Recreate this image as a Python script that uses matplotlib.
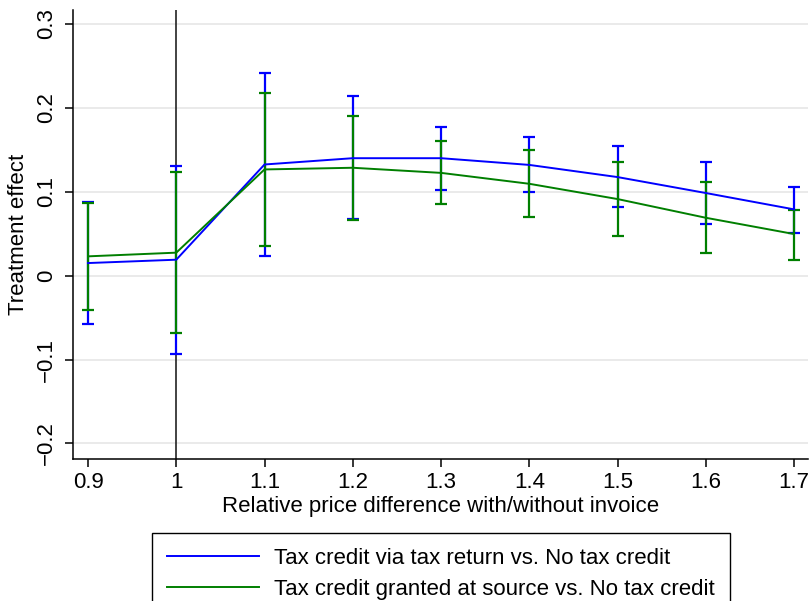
import numpy as np
import matplotlib
matplotlib.use("Agg")
import matplotlib.pyplot as plt

plt.rcParams['font.family'] = ['Liberation Sans', 'DejaVu Sans']

# price ratio grid
ratio = [0.9, 1.0, 1.1, 1.2, 1.3, 1.4, 1.5, 1.6, 1.7]

# Tax credit via tax return vs. No tax credit
blue_est = [0.015, 0.019, 0.1325, 0.140, 0.140, 0.132, 0.1175, 0.0985, 0.079]
blue_lo = [-0.058, -0.094, 0.024, 0.067, 0.1024, 0.100, 0.0813, 0.0615, 0.0504]
blue_hi = [0.0877, 0.131, 0.2413, 0.2139, 0.1774, 0.1647, 0.154, 0.1357, 0.106]

# Tax credit granted at source vs. No tax credit
green_est = [0.023, 0.0274, 0.1266, 0.1286, 0.1225, 0.1095, 0.0913, 0.069, 0.0496]
green_lo = [-0.041, -0.0687, 0.0353, 0.0663, 0.0855, 0.0694, 0.0468, 0.0274, 0.019]
green_hi = [0.087, 0.1234, 0.2175, 0.1905, 0.161, 0.150, 0.135, 0.1115, 0.0786]

xticks = [0.9, 1, 1.1, 1.2, 1.3, 1.4, 1.5, 1.6, 1.7]
xticklabels = ["0.9", "1", "1.1", "1.2", "1.3", "1.4", "1.5", "1.6", "1.7"]
yticks = [-0.2, -0.1, 0, 0.1, 0.2, 0.3]
yticklabels = ["\u22120.2", "\u22120.1", "0", "0.1", "0.2", "0.3"]

BLUE = "#0000ff"
GREEN = "#007f00"
FS = 16

fig = plt.figure(figsize=(8.1, 6.01), dpi=100)
ax = fig.add_axes([0.0907, 0.2371, 0.907, 0.7463])

for y in yticks:
    ax.axhline(y, color="#e6e6e6", lw=1.2, zorder=0)
ax.axvline(1, color="#222222", lw=1.2, zorder=1)

x = np.array(ratio)
b = np.array(blue_est)
g = np.array(green_est)
ax.errorbar(x, b, yerr=[b - np.array(blue_lo), np.array(blue_hi) - b], fmt="none",
            ecolor=BLUE, elinewidth=1.6, capsize=4, capthick=1.6, zorder=2)
ax.errorbar(x, g, yerr=[g - np.array(green_lo), np.array(green_hi) - g], fmt="none",
            ecolor=GREEN, elinewidth=1.6, capsize=4, capthick=1.6, zorder=3)
ax.plot(x, b, color=BLUE, lw=1.4, zorder=4, label="Tax credit via tax return vs. No tax credit")
ax.plot(x, g, color=GREEN, lw=1.4, zorder=4, label="Tax credit granted at source vs. No tax credit")

ax.set_xlim(0.8835, 1.716)
ax.set_ylim(-0.218, 0.3167)
ax.set_xticks(xticks)
ax.set_xticklabels(xticklabels, fontsize=FS)
ax.set_yticks(yticks)
ax.set_yticklabels(yticklabels, fontsize=FS, rotation=90, va="center")
ax.tick_params(direction="out", length=6, width=1.1, color="black")
ax.tick_params(axis="x", pad=4)
ax.tick_params(axis="y", pad=6)
for s in ["top", "right"]:
    ax.spines[s].set_visible(False)
for s in ["left", "bottom"]:
    ax.spines[s].set_linewidth(1.1)

ax.set_xlabel("Relative price difference with/without invoice", fontsize=FS, labelpad=2)
ax.set_ylabel("Treatment effect", fontsize=FS, labelpad=5)

leg = fig.legend(loc="upper center", bbox_to_anchor=(0.5447, 0.1137), fontsize=FS,
                 frameon=True, fancybox=False, edgecolor="black", framealpha=1,
                 handlelength=4.1, handletextpad=0.7, labelspacing=0.45, borderpad=0.68,
                 borderaxespad=0)
leg.get_frame().set_linewidth(1.0)

fig.savefig("out.png", dpi=100)
